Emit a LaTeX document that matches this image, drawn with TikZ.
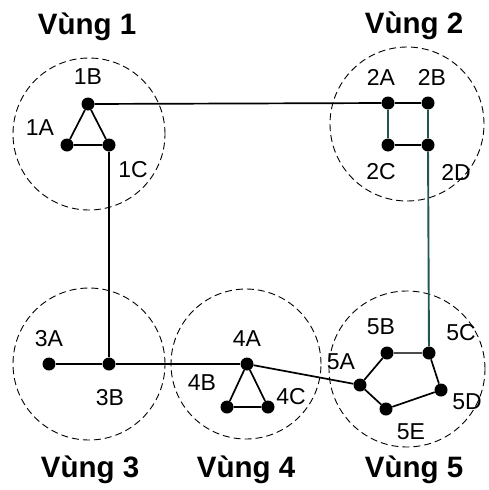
\documentclass[tikz,border=0pt]{standalone}
\usepackage{fontspec}
\setmainfont{Liberation Sans}
\definecolor{tealdark}{RGB}{35,85,85}
\begin{document}
\begin{tikzpicture}[x=1pt,y=-1pt,
  dot/.style={circle,fill=black,inner sep=0pt,minimum size=13pt},
  lbl/.style={inner sep=0pt,font=\fontsize{23}{25}\selectfont},
  title/.style={inner sep=0pt,font=\fontsize{29.5}{31}\selectfont\bfseries},
  zone/.style={draw,dashed,dash pattern=on 7pt off 4pt,line width=0.9pt},
  link/.style={line width=1.7pt},
  tlink/.style={line width=1.9pt,draw=tealdark}]
\useasboundingbox (0,0) rectangle (488,490);
% zones
\draw[zone] (89,134) circle[radius=76pt];
\draw[zone] (407,124) circle[radius=77pt];
\draw[zone] (89,364) circle[radius=76pt];
\draw[zone] (246,364) circle[radius=75pt];
\draw[zone] (407,369) circle[radius=78pt];
% titles
\node[title] (t1) at (87,27) {Vùng 1};
\node[title] (t2) at (414,26) {Vùng 2};
\node[title] (t3) at (90,470) {Vùng 3};
\node[title] (t4) at (246,470) {Vùng 4};
\node[title] (t5) at (414,470) {Vùng 5};
% labels
\node[lbl] (l1A) at (40,128) {1A};
\node[lbl] (l1B) at (88,77) {1B};
\node[lbl] (l1C) at (133,170) {1C};
\node[lbl] (l2A) at (381,77) {2A};
\node[lbl] (l2B) at (432,77) {2B};
\node[lbl] (l2C) at (381,172) {2C};
\node[lbl] (l2D) at (456,172) {2D};
\node[lbl] (l3A) at (49,339) {3A};
\node[lbl] (l3B) at (110,398) {3B};
\node[lbl] (l4A) at (247,339) {4A};
\node[lbl] (l4B) at (202,383) {4B};
\node[lbl] (l4C) at (291,397) {4C};
\node[lbl] (l5A) at (341,362) {5A};
\node[lbl] (l5B) at (381,327) {5B};
\node[lbl] (l5C) at (461,333) {5C};
\node[lbl] (l5D) at (467,402) {5D};
\node[lbl] (l5E) at (411,432) {5E};
% nodes
\node[dot] (1A) at (67,145) {};
\node[dot] (1B) at (88,104) {};
\node[dot] (1C) at (109,145) {};
\node[dot] (2A) at (388,103) {};
\node[dot] (2B) at (428,103) {};
\node[dot] (2C) at (388,145) {};
\node[dot] (2D) at (428,145) {};
\node[dot] (3A) at (49,364) {};
\node[dot] (3B) at (109,364) {};
\node[dot] (4A) at (247,364) {};
\node[dot] (4B) at (227,407) {};
\node[dot] (4C) at (268,407) {};
\node[dot] (5A) at (360,385) {};
\node[dot] (5B) at (387,353) {};
\node[dot] (5C) at (429,353) {};
\node[dot] (5D) at (441,390) {};
\node[dot] (5E) at (386,409) {};
% links
\draw[link] (1A) -- (1B) -- (1C) -- (1A);
\draw[link] (1B) -- (2A);
\draw[link] (2A) -- (2B);
\draw[link] (2C) -- (2D);
\draw[tlink] (2A) -- (2C);
\draw[tlink] (2B) -- (2D);
\draw[tlink] (2D) -- (5C);
\draw[link] (1C) -- (3B);
\draw[link] (3A) -- (3B);
\draw[link] (3B) -- (4A);
\draw[link] (4A) -- (4B) -- (4C) -- (4A);
\draw[link] (4A) -- (5A);
\draw[link] (5A) -- (5B);
\draw[link,line width=1.2pt,draw=black!70] (5B) -- (5C);
\draw[link] (5C) -- (5D) -- (5E) -- (5A);
\end{tikzpicture}
\end{document}
